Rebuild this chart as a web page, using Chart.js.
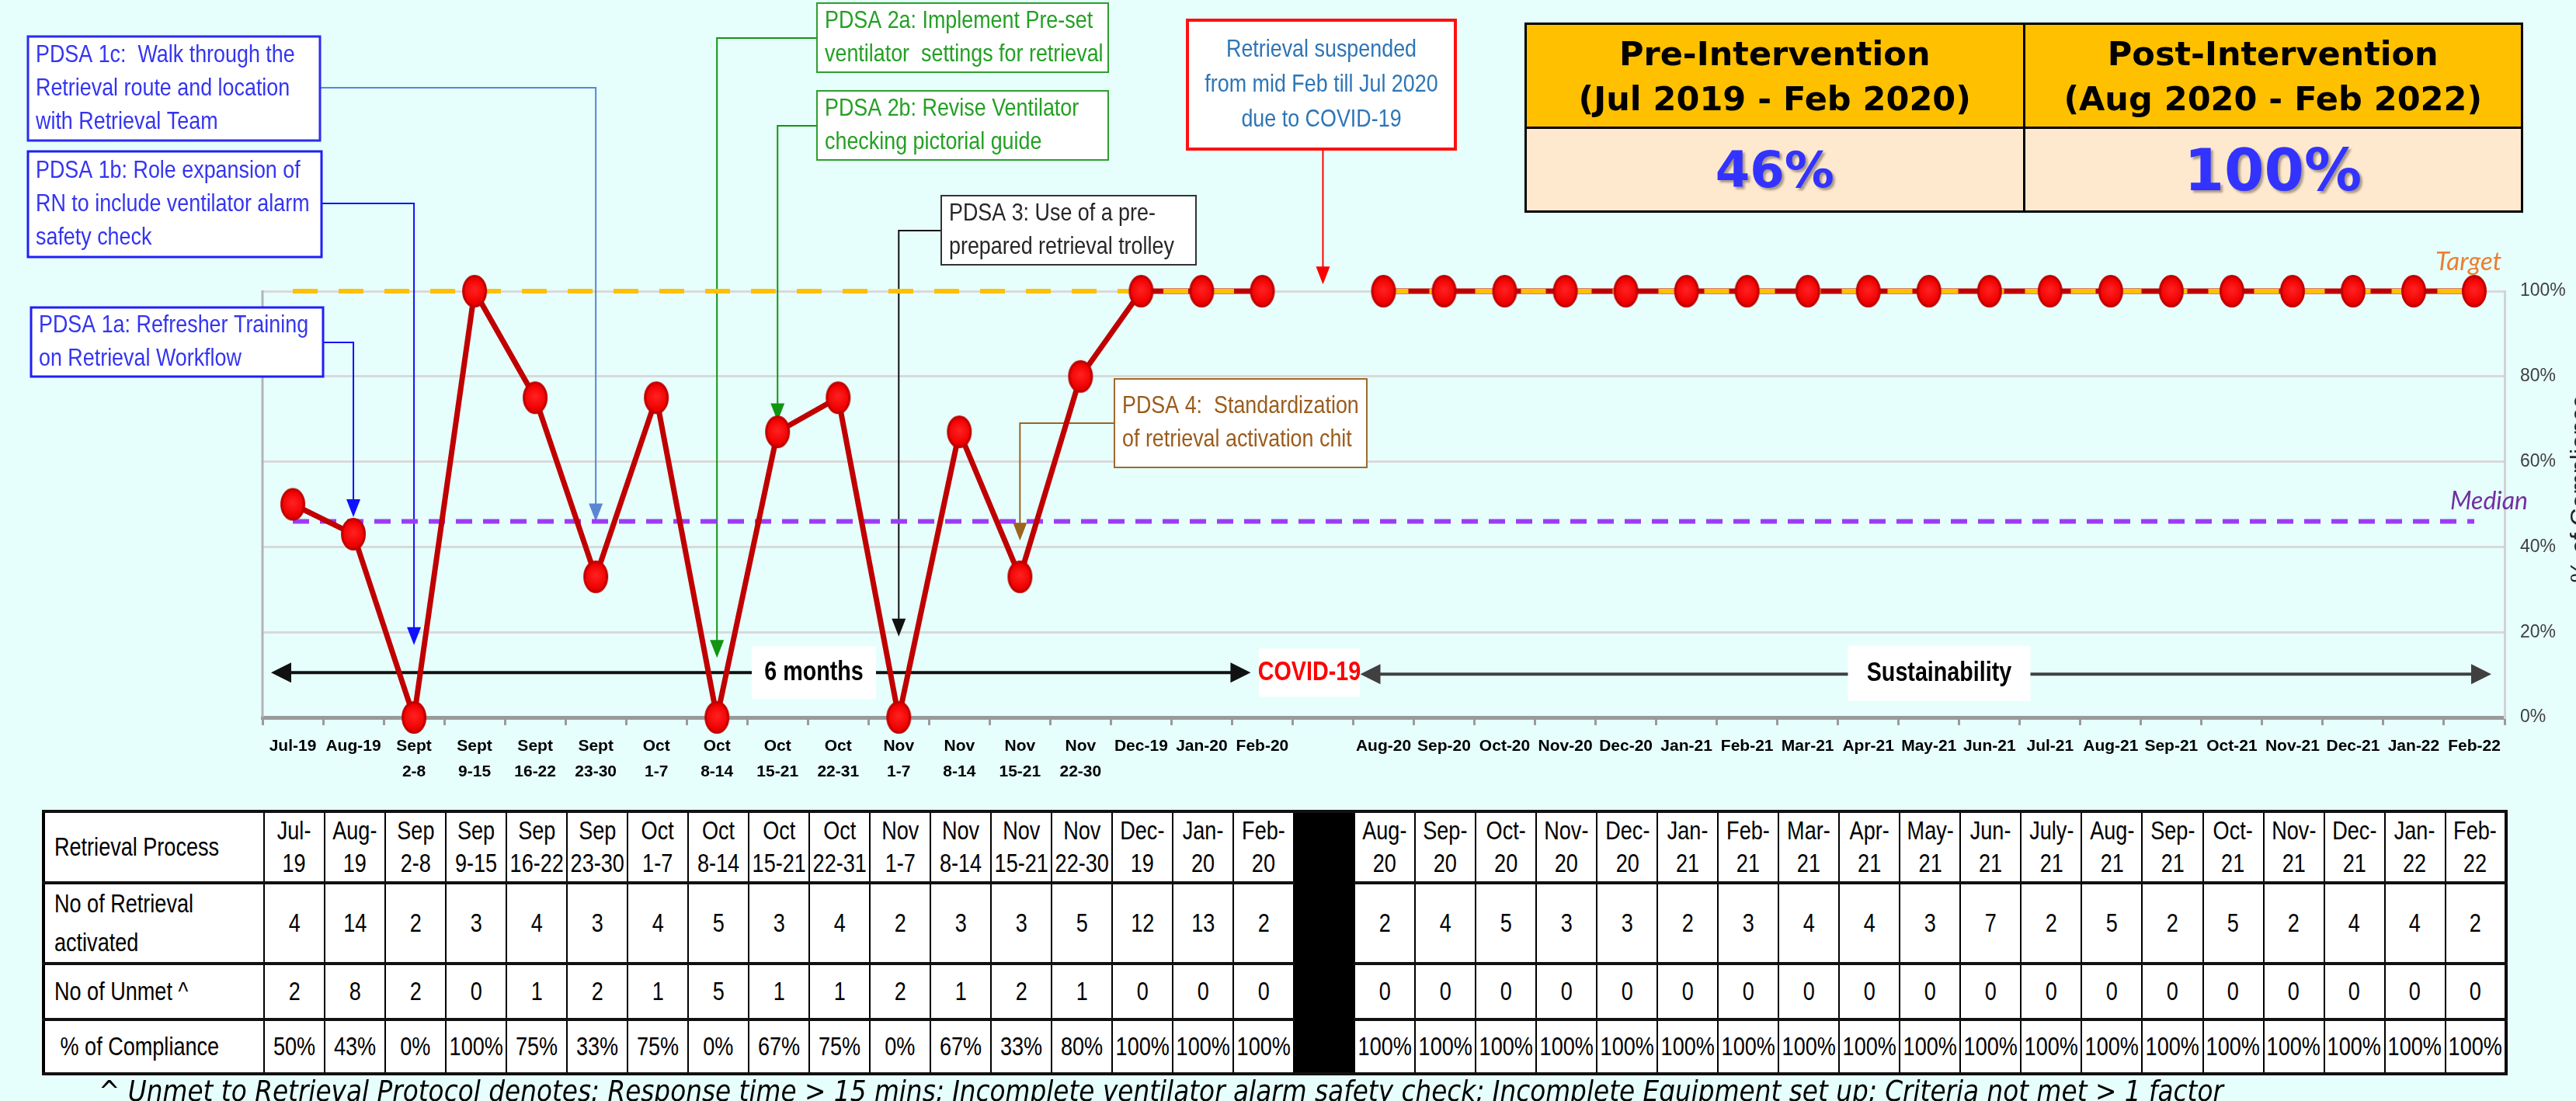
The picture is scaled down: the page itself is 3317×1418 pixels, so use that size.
<!DOCTYPE html>
<html>
<head>
<meta charset="utf-8">
<script src="https://cdn.jsdelivr.net/npm/chart.js@4.4.1/dist/chart.umd.min.js"></script>
<style>
html,body{margin:0;padding:0;background:#E6FFFC;width:3317px;height:1418px;overflow:hidden;}
#wrap{position:relative;width:3317px;height:1418px;overflow:hidden;}
#c{position:absolute;left:0;top:0;}
#sum{position:absolute;left:1963px;top:29px;width:1286px;border-collapse:collapse;table-layout:fixed;font-family:'DejaVu Sans',Verdana,sans-serif;font-weight:bold;border:3px solid #000;}
#sum th{background:#FFC000;height:131px;font-size:43px;line-height:58px;border:3px solid #000;color:#000;padding:0;}
#sum td{background:#FFE9CE;height:105px;border:3px solid #000;color:#3333FF;text-align:center;padding:0;text-shadow:3px 3px 3px rgba(0,0,0,0.35);}
#sum td.v1{font-size:64px;}
#sum td.v2{font-size:74px;}
#tbl{position:absolute;top:1043px;border-collapse:collapse;table-layout:fixed;background:#fff;font-family:'Liberation Sans',Arial,sans-serif;font-size:33px;color:#000;border:4px solid #000;}
#tbl td{border-left:2px solid #000;border-right:2px solid #000;border-top:4px solid #111;border-bottom:4px solid #111;padding:0;overflow:visible;}
#tbl .f{display:flex;justify-content:center;align-items:center;height:100%;}
#tbl .n{display:inline-block;transform:scaleX(0.82);white-space:nowrap;line-height:42px;text-align:center;}
#tbl td.lab .f{justify-content:flex-start;padding-left:12px;}
#tbl td.lab .n{transform-origin:left center;text-align:left;}
#tbl td.lab.act .n{line-height:50px;}
#tbl td.blk{background:#000;}
#foot{position:absolute;left:127px;top:1386px;font-family:'DejaVu Sans',Verdana,sans-serif;font-style:italic;font-size:38px;line-height:38px;white-space:nowrap;color:#000;transform-origin:left top;}
</style>
</head>
<body>
<div id="wrap">
<canvas id="c" width="3317" height="1418"></canvas>
<table id="sum"></table>
<table id="tbl"></table>
<div id="foot"></div>
</div>
<script>
// ---------------- DATA ----------------
const preLabels = ['Jul-19','Aug-19',['Sept','2-8'],['Sept','9-15'],['Sept','16-22'],['Sept','23-30'],['Oct','1-7'],['Oct','8-14'],['Oct','15-21'],['Oct','22-31'],['Nov','1-7'],['Nov','8-14'],['Nov','15-21'],['Nov','22-30'],'Dec-19','Jan-20','Feb-20'];
const gapLabel = '';
const postLabels = ['Aug-20','Sep-20','Oct-20','Nov-20','Dec-20','Jan-21','Feb-21','Mar-21','Apr-21','May-21','Jun-21','Jul-21','Aug-21','Sep-21','Oct-21','Nov-21','Dec-21','Jan-22','Feb-22'];

const compliancePre = [50,43,0,100,75,33,75,0,67,75,0,67,33,80,100,100,100];
const compliancePost = [100,100,100,100,100,100,100,100,100,100,100,100,100,100,100,100,100,100,100];
const medianValue = 46;
const targetValue = 100;

const tableHeadPre = [['Jul-','19'],['Aug-','19'],['Sep','2-8'],['Sep','9-15'],['Sep','16-22'],['Sep','23-30'],['Oct','1-7'],['Oct','8-14'],['Oct','15-21'],['Oct','22-31'],['Nov','1-7'],['Nov','8-14'],['Nov','15-21'],['Nov','22-30'],['Dec-','19'],['Jan-','20'],['Feb-','20']];
const tableHeadPost = [['Aug-','20'],['Sep-','20'],['Oct-','20'],['Nov-','20'],['Dec-','20'],['Jan-','21'],['Feb-','21'],['Mar-','21'],['Apr-','21'],['May-','21'],['Jun-','21'],['July-','21'],['Aug-','21'],['Sep-','21'],['Oct-','21'],['Nov-','21'],['Dec-','21'],['Jan-','22'],['Feb-','22']];
const activatedPre = [4,14,2,3,4,3,4,5,3,4,2,3,3,5,12,13,2];
const activatedPost = [2,4,5,3,3,2,3,4,4,3,7,2,5,2,5,2,4,4,2];
const unmetPre = [2,8,2,0,1,2,1,5,1,1,2,1,2,1,0,0,0];
const unmetPost = [0,0,0,0,0,0,0,0,0,0,0,0,0,0,0,0,0,0,0];
const rowLabels = ['Retrieval Process','No of Retrieval<br>activated','No of Unmet ^','&nbsp;% of Compliance'];

const summaryHeads = ['Pre-Intervention<br>(Jul 2019 - Feb 2020)','Post-Intervention<br>(Aug 2020 - Feb 2022)'];
const summaryValues = ['46%','100%'];

const footnote = '^ Unmet to Retrieval Protocol denotes: Response time > 15 mins; Incomplete ventilator alarm safety check; Incomplete Equipment set up; Criteria not met > 1 factor';

// ---------------- DERIVED ----------------
const categories = [...preLabels, gapLabel, ...postLabels];
const compliance = [...compliancePre, null, ...compliancePost];
const medianData = categories.map(() => medianValue);
const targetData = compliance.map(v => v === null ? null : targetValue);

// ---------------- ANNOTATION LAYOUT ----------------
const notes = [
  {lines:['PDSA 1c:  Walk through the','Retrieval route and location','with Retrieval Team'], box:[36,47,376,134], text:'#3434F2', border:'#2B2BF0', bw:3, side:'right', ly:113, cat:5, tip:46, link:'#5A86D4'},
  {lines:['PDSA 1b: Role expansion of','RN to include ventilator alarm','safety check'], box:[36,195,378,136], text:'#3434F2', border:'#1F1FF5', bw:3, side:'right', ly:262, cat:2, tip:17, link:'#1010FF'},
  {lines:['PDSA 1a: Refresher Training','on Retrieval Workflow'], box:[40,396,376,89], text:'#3434F2', border:'#1F1FF5', bw:3, side:'right', ly:441, cat:1, tip:47, link:'#1010FF'},
  {lines:['PDSA 2a: Implement Pre-set','ventilator  settings for retrieval'], box:[1052,4,375,89], text:'#23A023', border:'#2E9E2E', bw:2, side:'left', ly:49, cat:7, tip:14, link:'#129412'},
  {lines:['PDSA 2b: Revise Ventilator','checking pictorial guide'], box:[1052,117,375,89], text:'#23A023', border:'#2E9E2E', bw:2, side:'left', ly:162, cat:8, tip:69.5, link:'#129412'},
  {lines:['PDSA 3: Use of a pre-','prepared retrieval trolley'], box:[1212,252,328,89], text:'#262626', border:'#333333', bw:2, side:'left', ly:297, cat:10, tip:19, link:'#111111'},
  {lines:['PDSA 4:  Standardization','of retrieval activation chit'], box:[1435,488,325,114], text:'#9A5C1C', border:'#A0692A', bw:2, side:'left', ly:545, cat:12, tip:41.5, link:'#9C6420'},
  {lines:['Retrieval suspended','from mid Feb till Jul 2020','due to COVID-19'], box:[1529,26,345,166], text:'#2E75B6', border:'#FF1010', bw:4, side:'bottom', cat:17, tip:101.6, link:'#FF0000', center:true, spacing:45}
];

// ---------------- HELPERS ----------------
function nText(ctx, t, x, y, font, color, align, s){
  ctx.save();
  ctx.font = font; ctx.fillStyle = color; ctx.textAlign = align || 'left'; ctx.textBaseline = 'middle';
  ctx.translate(x, y); ctx.scale(s || 0.82, 1); ctx.fillText(t, 0, 0);
  ctx.restore();
}
function vArrowHead(ctx, x, tipY, color, len, hw){
  ctx.fillStyle = color;
  ctx.beginPath(); ctx.moveTo(x, tipY); ctx.lineTo(x - hw, tipY - len); ctx.lineTo(x + hw, tipY - len); ctx.closePath(); ctx.fill();
}
function hArrow(ctx, x1, x2, yy, color, lw){
  const L = 26, H = 13;
  ctx.strokeStyle = color; ctx.fillStyle = color; ctx.lineWidth = lw;
  ctx.beginPath(); ctx.moveTo(x1 + L - 2, yy); ctx.lineTo(x2 - L + 2, yy); ctx.stroke();
  ctx.beginPath(); ctx.moveTo(x1, yy); ctx.lineTo(x1 + L, yy - H); ctx.lineTo(x1 + L, yy + H); ctx.closePath(); ctx.fill();
  ctx.beginPath(); ctx.moveTo(x2, yy); ctx.lineTo(x2 - L, yy - H); ctx.lineTo(x2 - L, yy + H); ctx.closePath(); ctx.fill();
}
function whiteLabel(ctx, t, cx, cy, w, h, color){
  ctx.fillStyle = '#FFFFFF'; ctx.fillRect(cx - w/2, cy - h/2, w, h);
  nText(ctx, t, cx, cy, 'bold 35px "Liberation Sans", Arial, sans-serif', color, 'center', 0.82);
}

// point marker: red ellipse with dark rim
const dot = document.createElement('canvas');
dot.width = 34; dot.height = 44;
(function(){
  const g = dot.getContext('2d');
  const grad = g.createRadialGradient(17, 20, 2, 17, 22, 20);
  grad.addColorStop(0, '#FF1E1E'); grad.addColorStop(0.75, '#F00000'); grad.addColorStop(1, '#C80000');
  g.fillStyle = grad;
  g.beginPath(); g.ellipse(17, 22, 14.5, 19.5, 0, 0, Math.PI*2); g.fill();
  g.strokeStyle = '#C00000'; g.lineWidth = 3; g.stroke();
})();

const decor = {
  id: 'decor',
  beforeDatasetsDraw(chart){
    const {ctx, chartArea:a, scales:{x, y}} = chart;
    ctx.save();
    ctx.strokeStyle = '#B4B4B4'; ctx.lineWidth = 3;
    ctx.beginPath(); ctx.moveTo(a.left, a.top - 1); ctx.lineTo(a.left, a.bottom); ctx.stroke();

    const ay = y.getPixelForValue(10.5);
    hArrow(ctx, x.getPixelForValue(0) - 28, x.getPixelForValue(16) - 15, ay, '#111111', 4);
    hArrow(ctx, x.getPixelForValue(17) + 48, x.getPixelForValue(36) + 22, ay + 2, '#404040', 4);
    whiteLabel(ctx, '6 months', 1048, ay, 160, 68, '#000000');
    whiteLabel(ctx, 'COVID-19', 1686, ay, 130, 62, '#FF0000');
    whiteLabel(ctx, 'Sustainability', 2497, ay + 1, 235, 71, '#000000');

    notes.forEach(n => {
      const [bx, by, bw, bh] = n.box;
      const cx = x.getPixelForValue(n.cat);
      const tipY = y.getPixelForValue(n.tip);
      ctx.strokeStyle = n.link; ctx.lineWidth = 2;
      ctx.beginPath();
      if (n.side === 'bottom') {
        ctx.moveTo(cx, by + bh); ctx.lineTo(cx, tipY - 20);
      } else {
        const sx = n.side === 'right' ? bx + bw : bx;
        ctx.moveTo(sx, n.ly); ctx.lineTo(cx, n.ly); ctx.lineTo(cx, tipY - 20);
      }
      ctx.stroke();
      vArrowHead(ctx, cx, tipY, n.link, 23, 9);
      ctx.fillStyle = '#FFFFFF'; ctx.fillRect(bx, by, bw, bh);
      ctx.strokeStyle = n.border; ctx.lineWidth = n.bw;
      ctx.strokeRect(bx, by, bw, bh);
      const sp = n.spacing || 43;
      const mid = by + bh/2;
      n.lines.forEach((t, i) => {
        const ly = mid + (i - (n.lines.length - 1)/2) * sp;
        if (n.center) nText(ctx, t, bx + bw/2, ly, '32px "Liberation Sans", Arial, sans-serif', n.text, 'center', 0.84);
        else nText(ctx, t, bx + 10, ly, '32px "Liberation Sans", Arial, sans-serif', n.text, 'left', 0.84);
      });
    });
    ctx.restore();
  },
  afterDatasetsDraw(chart){
    const {ctx, chartArea:a, scales:{x, y}} = chart;
    ctx.save();
    ctx.textBaseline = 'alphabetic'; ctx.textAlign = 'left';
    ctx.font = 'italic 33px Lato, "Open Sans", sans-serif';
    ctx.fillStyle = '#ED7D31';
    ctx.fillText('Target', 3136, y.getPixelForValue(targetValue) - 27);
    ctx.font = 'italic 32px Lato, "Open Sans", sans-serif';
    ctx.fillStyle = '#7030A0';
    ctx.fillText('Median', 3155, y.getPixelForValue(medianValue) - 15);
    ctx.translate(3307, (a.top + a.bottom)/2 - 20);
    ctx.rotate(-Math.PI/2);
    ctx.font = '32px "Liberation Sans", Arial, sans-serif';
    ctx.fillStyle = '#262626'; ctx.textAlign = 'center'; ctx.textBaseline = 'top';
    ctx.fillText('% of Compliance', 0, 0);
    ctx.restore();
  }
};

Chart.defaults.font.family = '"Liberation Sans", Arial, sans-serif';

const chart = new Chart(document.getElementById('c').getContext('2d'), {
  type: 'line',
  data: {
    labels: categories,
    datasets: [
      {label:'Median', data: medianData, borderColor:'#9B3DF5', borderWidth:6, borderDash:[21,14], pointRadius:0, order:5, spanGaps:true, clip:false},
      {label:'% of Compliance', data: compliance, borderColor:'#C00000', borderWidth:7, pointRadius:0, order:4, spanGaps:false, clip:false},
      {label:'Target', data: targetData, borderColor:'#FFC000', borderWidth:6, borderDash:[32,27], pointRadius:0, order:3, spanGaps:false, clip:false},
      {label:'Points', data: compliance, showLine:false, pointStyle: dot, pointRadius:15, order:1, clip:false}
    ]
  },
  options: {
    responsive: false, animation: false, devicePixelRatio: 1,
    layout: {padding: {left:338, top:375, right:0, bottom:414}},
    plugins: {legend:{display:false}, tooltip:{enabled:false}},
    scales: {
      x: {
        offset: true,
        grid: {drawOnChartArea:false, drawTicks:true, tickLength:10, color:'#9A9A9A', lineWidth:3, offset:true},
        border: {display:true, color:'#9A9A9A', width:5},
        ticks: {autoSkip:false, maxRotation:0, minRotation:0, padding:10, color:'#000', font:{size:21, weight:'bold', lineHeight:1.6}},
        afterFit(s){ s.height = 80; }
      },
      y: {
        position: 'right', min:0, max:100,
        ticks: {stepSize:20, padding:20, color:'#404040', font:{size:23}, callback: v => v + '%'},
        grid: {color:'#D9D9D9', lineWidth:3, drawTicks:false},
        border: {display:true, color:'#D3D3D3', width:3},
        afterFit(s){ s.width = 92; }
      }
    }
  },
  plugins: [decor]
});

// ---------------- SUMMARY TABLE ----------------
(function(){
  const t = document.getElementById('sum');
  t.innerHTML = '<tr>' + summaryHeads.map(h => '<th>' + h + '</th>').join('') + '</tr>' +
    '<tr>' + summaryValues.map((v, i) => '<td class="v' + (i+1) + '">' + v + '</td>').join('') + '</tr>';
})();

// ---------------- DATA TABLE ----------------
(function(){
  const a = chart.chartArea;
  const cw = (a.right - a.left) / categories.length;
  const labW = 284;
  const t = document.getElementById('tbl');
  t.style.left = (a.left - labW) + 'px';
  t.style.width = (labW + cw * categories.length) + 'px';
  let cg = '<colgroup><col style="width:' + labW + 'px">';
  for (let i = 0; i < categories.length; i++) cg += '<col style="width:' + cw + 'px">';
  cg += '</colgroup>';
  const cell = (html, cls) => '<td' + (cls ? ' class="' + cls + '"' : '') + '><div class="f"><span class="n">' + html + '</span></div></td>';
  const heights = [92, 98, 72, 70];
  const rows = [
    [tableHeadPre.map(h => h.join('<br>')), tableHeadPost.map(h => h.join('<br>'))],
    [activatedPre.map(String), activatedPost.map(String)],
    [unmetPre.map(String), unmetPost.map(String)],
    [compliancePre.map(v => v + '%'), compliancePost.map(v => v + '%')]
  ];
  let html = cg;
  rows.forEach((r, ri) => {
    html += '<tr style="height:' + heights[ri] + 'px">';
    html += cell(rowLabels[ri], 'lab' + (ri === 1 ? ' act' : ''));
    html += r[0].map(v => cell(v)).join('');
    if (ri === 0) html += '<td class="blk" rowspan="4"></td>';
    html += r[1].map(v => cell(v)).join('');
    html += '</tr>';
  });
  t.innerHTML = html;
})();

// ---------------- FOOTNOTE ----------------
(function(){
  const f = document.getElementById('foot');
  f.textContent = footnote;
  const w = f.scrollWidth;
  const target = 2736;
  f.style.transform = 'scaleX(' + (target / w) + ')';
})();
</script>
</body>
</html>
